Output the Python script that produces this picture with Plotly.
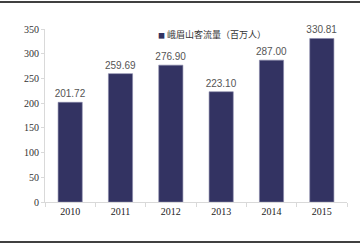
import plotly.graph_objects as go

years = ["2010", "2011", "2012", "2013", "2014", "2015"]
visitors = [201.72, 259.69, 276.90, 223.10, 287.00, 330.81]
labels = ["201.72", "259.69", "276.90", "223.10", "287.00", "330.81"]
series_name = "峨眉山客流量（百万人）"
yticks = [0, 50, 100, 150, 200, 250, 300, 350]

fig = go.Figure()
fig.add_trace(go.Bar(
    x=years, y=visitors, name=series_name,
    text=labels, textposition="outside", cliponaxis=False, constraintext="none",
    textfont=dict(family="Liberation Sans", size=10, color="#555555"),
    marker=dict(color="#333362", line=dict(color="#8888aa", width=0.6)),
    showlegend=False,
))

L, R, T, B = 45, 13, 29, 43
W, H = 360, 245
pw, ph = W - L - R, H - T - B

fig.update_layout(
    width=W, height=H,
    margin=dict(l=L, r=R, t=T, b=B),
    paper_bgcolor="white", plot_bgcolor="white",
    bargap=0.52,
    showlegend=False,
    xaxis=dict(showline=True, linecolor="#d9d9d9", linewidth=1,
               ticks="outside", tickson="boundaries", ticklen=4, tickcolor="#d9d9d9",
               tickfont=dict(family="Liberation Serif", size=10, color="#222222"),
               showgrid=False),
    yaxis=dict(range=[0, 350], tickvals=yticks, showline=True, linecolor="#d9d9d9",
               linewidth=1, ticks="outside", ticklen=3, tickcolor="#d9d9d9",
               tickfont=dict(family="Liberation Serif", size=10, color="#333333"),
               showgrid=False, zeroline=False),
    annotations=[
        dict(xref="paper", yref="paper", x=(156 - L) / pw, y=(202 - 34) / ph,
             xanchor="left", yanchor="middle", showarrow=False,
             text="<span style='color:#333362;font-size:7px'>■</span> " + series_name,
             font=dict(family="Noto Sans CJK SC", size=9, color="#333333")),
    ],
    shapes=[
        dict(type="line", xref="paper", yref="paper", x0=-L / pw, x1=1 + R / pw,
             y0=(202 - 2) / ph, y1=(202 - 2) / ph, line=dict(color="black", width=1.5)),
        dict(type="line", xref="paper", yref="paper", x0=-L / pw, x1=1 + R / pw,
             y0=(202 - 242) / ph, y1=(202 - 242) / ph, line=dict(color="black", width=1.5)),
    ],
)

fig.write_html("out.html")
